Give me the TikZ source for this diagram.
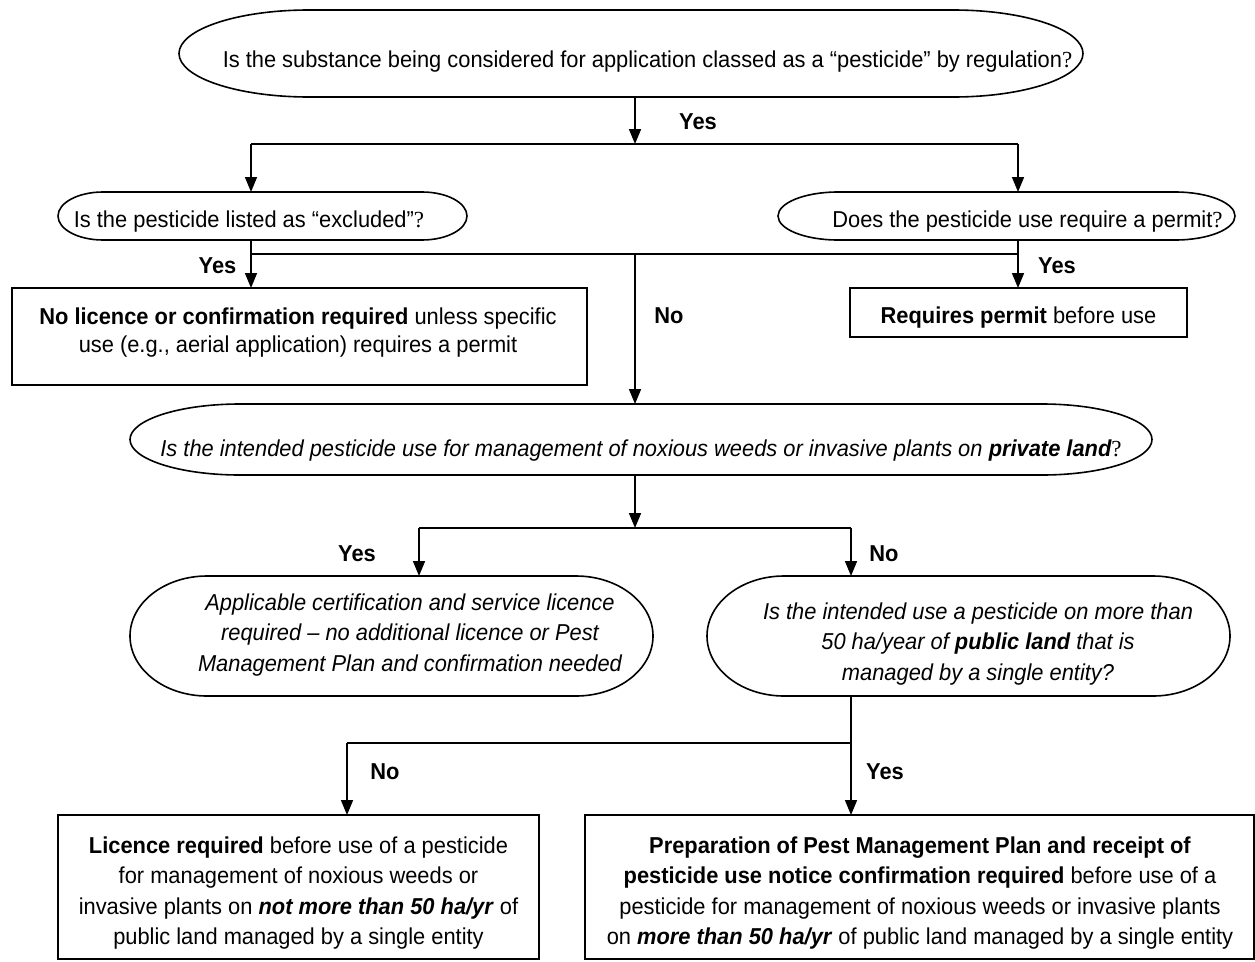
\documentclass[tikz,border=0pt]{standalone}
\usepackage{fontspec}
\setmainfont[FakeStretch=0.95]{Liberation Sans}
\newfontfamily\qfont{Liberation Serif}
\usetikzlibrary{arrows.meta,calc}
\newcommand{\qmark}{{\qfont\upshape\mdseries ?}}
\newcommand{\stadiumline}[2]{%
  \draw[ln] let \p1=(#1.north west), \p2=(#1.south east), \n1={(\y1-\y2)/2} in
  (\x1+#2pt,\y1) -- (\x2-#2pt,\y1)
  arc[start angle=90,end angle=-90,x radius=#2pt,y radius=\n1]
  -- (\x1+#2pt,\y2)
  arc[start angle=270,end angle=90,x radius=#2pt,y radius=\n1] -- cycle;}
\begin{document}
\begin{tikzpicture}[x=1pt,y=1pt,
  every node/.style={font=\fontsize{23}{28}\selectfont},
  ln/.style={line width=1.6pt},
  arr/.style={ln,-{Triangle[length=15pt,width=12pt]}},
  shp/.style={draw=none,inner sep=0pt,outer sep=0pt,rectangle},
  bx/.style={draw,line width=1.6pt,inner sep=0pt,outer sep=0pt,rectangle},
  txt/.style={inner sep=0pt,align=center},
  lab/.style={inner sep=0pt,font=\fontsize{23}{28}\selectfont\bfseries}]
\useasboundingbox (0,0) rectangle (1255,-961);

% shapes and texts
\node[shp,minimum width=904,minimum height=87] (q1) at (631,-53.5) {};
\node[txt,anchor=base] (q1t) at (647.5,-67) {Is the substance being considered for application classed as a “pesticide” by regulation\qmark};

\node[shp,minimum width=409,minimum height=48] (q2) at (262.5,-216) {};
\node[txt,anchor=base] (q2t) at (249,-227) {Is the pesticide listed as “excluded”\qmark};

\node[shp,minimum width=457,minimum height=48] (q3) at (1006.5,-216) {};
\node[txt,anchor=base] (q3t) at (1027.5,-227) {Does the pesticide use require a permit\qmark};

\node[bx,minimum width=575,minimum height=97] (b1) at (299.5,-336.5) {};
\node[txt] (b1t) at (298,-333) {\textbf{No licence or confirmation required} unless specific\\use (e.g., aerial application) requires a permit};

\node[bx,minimum width=337,minimum height=49] (b2) at (1018.5,-312.5) {};
\node[txt,anchor=base] (b2t) at (1018.5,-323.3) {\textbf{Requires permit} before use};

\node[shp,minimum width=1022,minimum height=71] (q4) at (641,-439.5) {};
\node[txt,anchor=base,font=\fontsize{23}{28}\selectfont\itshape] (q4t) at (641,-456) {Is the intended pesticide use for management of noxious weeds or invasive plants on \textbf{private land}\qmark};

\node[shp,minimum width=523,minimum height=120] (s1) at (391.5,-636) {};
\node[txt,font=\fontsize{23}{30.5}\selectfont\itshape] (s1t) at (410,-635) {Applicable certification and service licence\\required – no additional licence or Pest\\Management Plan and confirmation needed};

\node[shp,minimum width=523,minimum height=120] (s2) at (968.5,-636) {};
\node[txt,font=\fontsize{23}{30.5}\selectfont\itshape] (s2t) at (978,-644) {Is the intended use a pesticide on more than\\50 ha/year of \textbf{public land} that is\\managed by a single entity?};

\node[bx,minimum width=481,minimum height=144] (b3) at (298.5,-887) {};
\node[txt,font=\fontsize{23}{30.5}\selectfont] (b3t) at (298.5,-893) {\textbf{Licence required} before use of a pesticide\\for management of noxious weeds or\\invasive plants on \textbf{\textit{not more than 50 ha/yr}} of\\public land managed by a single entity};

\node[bx,minimum width=669,minimum height=144] (b4) at (919.5,-887) {};
\node[txt,font=\fontsize{23}{30.5}\selectfont] (b4t) at (920,-893) {\textbf{Preparation of Pest Management Plan and receipt of}\\\textbf{pesticide use notice confirmation required} before use of a\\pesticide for management of noxious weeds or invasive plants\\on \textbf{\textit{more than 50 ha/yr}} of public land managed by a single entity};

% outlines
\stadiumline{q1}{130}
\stadiumline{q2}{45}
\stadiumline{q3}{60}
\stadiumline{q4}{110}
\stadiumline{s1}{77}
\stadiumline{s2}{77}

% junctions
\coordinate (j1) at (635,-144);
\coordinate (j1l) at (251,-144);
\coordinate (j1r) at (1018,-144);
\coordinate (j2) at (635,-254);
\coordinate (j2l) at (251,-254);
\coordinate (j2r) at (1018,-254);
\coordinate (j3) at (635,-528);
\coordinate (j3l) at (419,-528);
\coordinate (j3r) at (851,-528);
\coordinate (j4l) at (347,-743);
\coordinate (j4r) at (851,-743);

% connectors
\draw[arr] (j1 |- q1.south) -- (j1);
\draw[ln] (j1l) -- (j1r);
\draw[arr] (j1l) -- (j1l |- q2.north);
\draw[arr] (j1r) -- (j1r |- q3.north);
\draw[arr] (j1l |- q2.south) -- (j1l |- b1.north);
\draw[arr] (j1r |- q3.south) -- (j1r |- b2.north);
\draw[ln] (j2l) -- (j2r);
\draw[arr] (j2) -- (j2 |- q4.north);
\draw[arr] (j2 |- q4.south) -- (j3);
\draw[ln] (j3l) -- (j3r);
\draw[arr] (j3l) -- (j3l |- s1.north);
\draw[arr] (j3r) -- (j3r |- s2.north);
\draw[arr] (j3r |- s2.south) -- (j3r |- b4.north);
\draw[ln] (j4l) -- (j4r);
\draw[arr] (j4l) -- (j4l |- b3.north);

% labels
\node[lab] (y1) at (698,-122) {Yes};
\node[lab] (y2) at (217.5,-266) {Yes};
\node[lab] (y3) at (1057,-266) {Yes};
\node[lab] (n1) at (669,-316) {No};
\node[lab] (y4) at (357,-554) {Yes};
\node[lab] (n2) at (884,-554) {No};
\node[lab] (n3) at (385,-772) {No};
\node[lab] (y5) at (885,-772) {Yes};
\end{tikzpicture}
\end{document}
